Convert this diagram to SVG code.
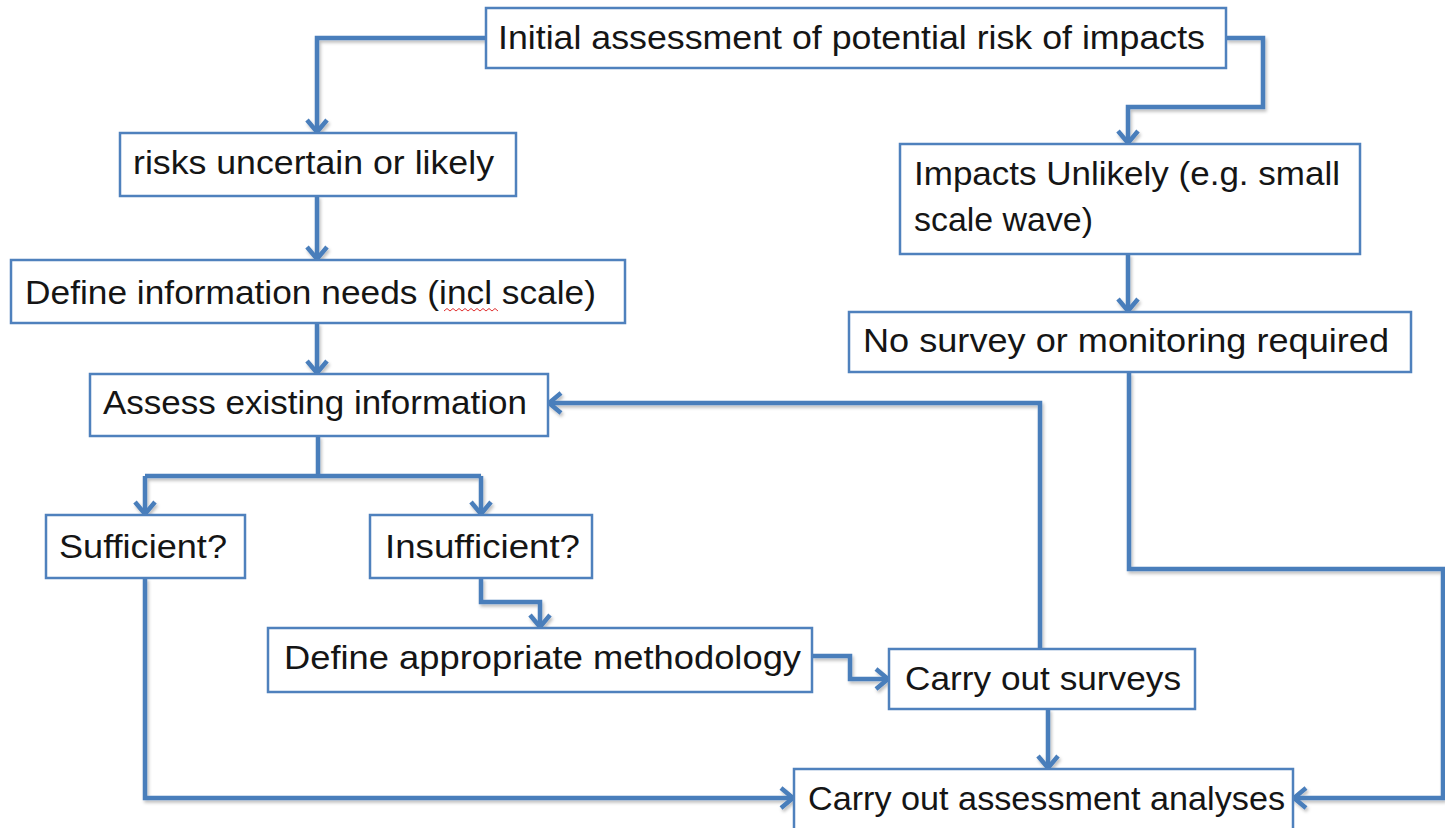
<svg xmlns="http://www.w3.org/2000/svg" width="1445" height="828" viewBox="0 0 1445 828">
<defs>
<style>
.box{fill:#ffffff;stroke:#4f81bd;stroke-width:2.5}
.lbl{font-family:"Liberation Sans",Arial,sans-serif;font-size:33px;fill:#151515}
.conn{fill:none;stroke:#4a7ebb;stroke-width:4.5;stroke-linejoin:miter}
</style>
<marker id="arr" markerUnits="userSpaceOnUse" markerWidth="26" markerHeight="26" viewBox="0 0 26 26" refX="22" refY="13" orient="auto">
<path d="M10,3 L22,13 L10,23" fill="none" stroke="#4a7ebb" stroke-width="4.5"/>
</marker>
<filter id="sh" x="-5%" y="-5%" width="110%" height="110%">
<feDropShadow dx="1.5" dy="2.5" stdDeviation="1.5" flood-color="#000" flood-opacity="0.25"/>
</filter>
</defs>
<rect width="1445" height="828" fill="#ffffff"/>

<g id="connectors" filter="url(#sh)">
<path class="conn" d="M486,38 H317 V132" marker-end="url(#arr)"/>
<path class="conn" d="M1226,38 H1263 V107 H1128 V143" marker-end="url(#arr)"/>
<path class="conn" d="M1128,254 V311" marker-end="url(#arr)"/>
<path class="conn" d="M317,196 V259" marker-end="url(#arr)"/>
<path class="conn" d="M317,323 V373" marker-end="url(#arr)"/>
<path class="conn" d="M318,436 V476"/>
<path class="conn" d="M145,476 H481"/>
<path class="conn" d="M145,476 V514" marker-end="url(#arr)"/>
<path class="conn" d="M481,476 V514" marker-end="url(#arr)"/>
<path class="conn" d="M481,578 V602 H540 V627" marker-end="url(#arr)"/>
<path class="conn" d="M812,656 H850 V679 H888" marker-end="url(#arr)"/>
<path class="conn" d="M1040,649 V403 H549" marker-end="url(#arr)"/>
<path class="conn" d="M1048,709 V768" marker-end="url(#arr)"/>
<path class="conn" d="M145,578 V798 H793" marker-end="url(#arr)"/>
<path class="conn" d="M1129,372 V569 H1443 V798 H1294" marker-end="url(#arr)"/>
</g>

<g id="n-initial">
<rect class="box" x="486" y="8" width="740" height="60"/>
<text class="lbl" x="498" y="49" textLength="707" lengthAdjust="spacingAndGlyphs">Initial assessment of potential risk of impacts</text>
</g>
<g id="n-risks">
<rect class="box" x="120" y="133" width="396" height="63"/>
<text class="lbl" x="133" y="174" textLength="361" lengthAdjust="spacingAndGlyphs">risks uncertain or likely</text>
</g>
<g id="n-define-info">
<rect class="box" x="11" y="260" width="614" height="63"/>
<text class="lbl" x="25" y="304" textLength="571" lengthAdjust="spacingAndGlyphs">Define information needs (incl scale)</text>
<path d="M444,311 l3,-2.5 l3,2.5 l3,-2.5 l3,2.5 l3,-2.5 l3,2.5 l3,-2.5 l3,2.5 l3,-2.5 l3,2.5 l3,-2.5 l3,2.5 l3,-2.5 l3,2.5 l3,-2.5 l3,2.5 l3,-2.5 l3,2.5" fill="none" stroke="#e03030" stroke-width="1"/>
</g>
<g id="n-assess">
<rect class="box" x="90" y="374" width="458" height="62"/>
<text class="lbl" x="103" y="414" textLength="424" lengthAdjust="spacingAndGlyphs">Assess existing information</text>
</g>
<g id="n-sufficient">
<rect class="box" x="46" y="515" width="199" height="63"/>
<text class="lbl" x="59" y="558" textLength="168" lengthAdjust="spacingAndGlyphs">Sufficient?</text>
</g>
<g id="n-insufficient">
<rect class="box" x="370" y="515" width="222" height="63"/>
<text class="lbl" x="385" y="558" textLength="195" lengthAdjust="spacingAndGlyphs">Insufficient?</text>
</g>
<g id="n-method">
<rect class="box" x="268" y="628" width="544" height="64"/>
<text class="lbl" x="284" y="669" textLength="517" lengthAdjust="spacingAndGlyphs">Define appropriate methodology</text>
</g>
<g id="n-surveys">
<rect class="box" x="889" y="649" width="306" height="60"/>
<text class="lbl" x="905" y="690" textLength="276" lengthAdjust="spacingAndGlyphs">Carry out surveys</text>
</g>
<g id="n-analyses">
<rect class="box" x="794" y="769" width="499" height="66"/>
<text class="lbl" x="808" y="810" textLength="477" lengthAdjust="spacingAndGlyphs">Carry out assessment analyses</text>
</g>
<g id="n-unlikely">
<rect class="box" x="900" y="144" width="460" height="110"/>
<text class="lbl" x="914" y="185" textLength="426" lengthAdjust="spacingAndGlyphs">Impacts Unlikely (e.g. small</text>
<text class="lbl" x="914" y="231" textLength="179" lengthAdjust="spacingAndGlyphs">scale wave)</text>
</g>
<g id="n-nosurvey">
<rect class="box" x="849" y="312" width="562" height="60"/>
<text class="lbl" x="863" y="352" textLength="526" lengthAdjust="spacingAndGlyphs">No survey or monitoring required</text>
</g>
</svg>
